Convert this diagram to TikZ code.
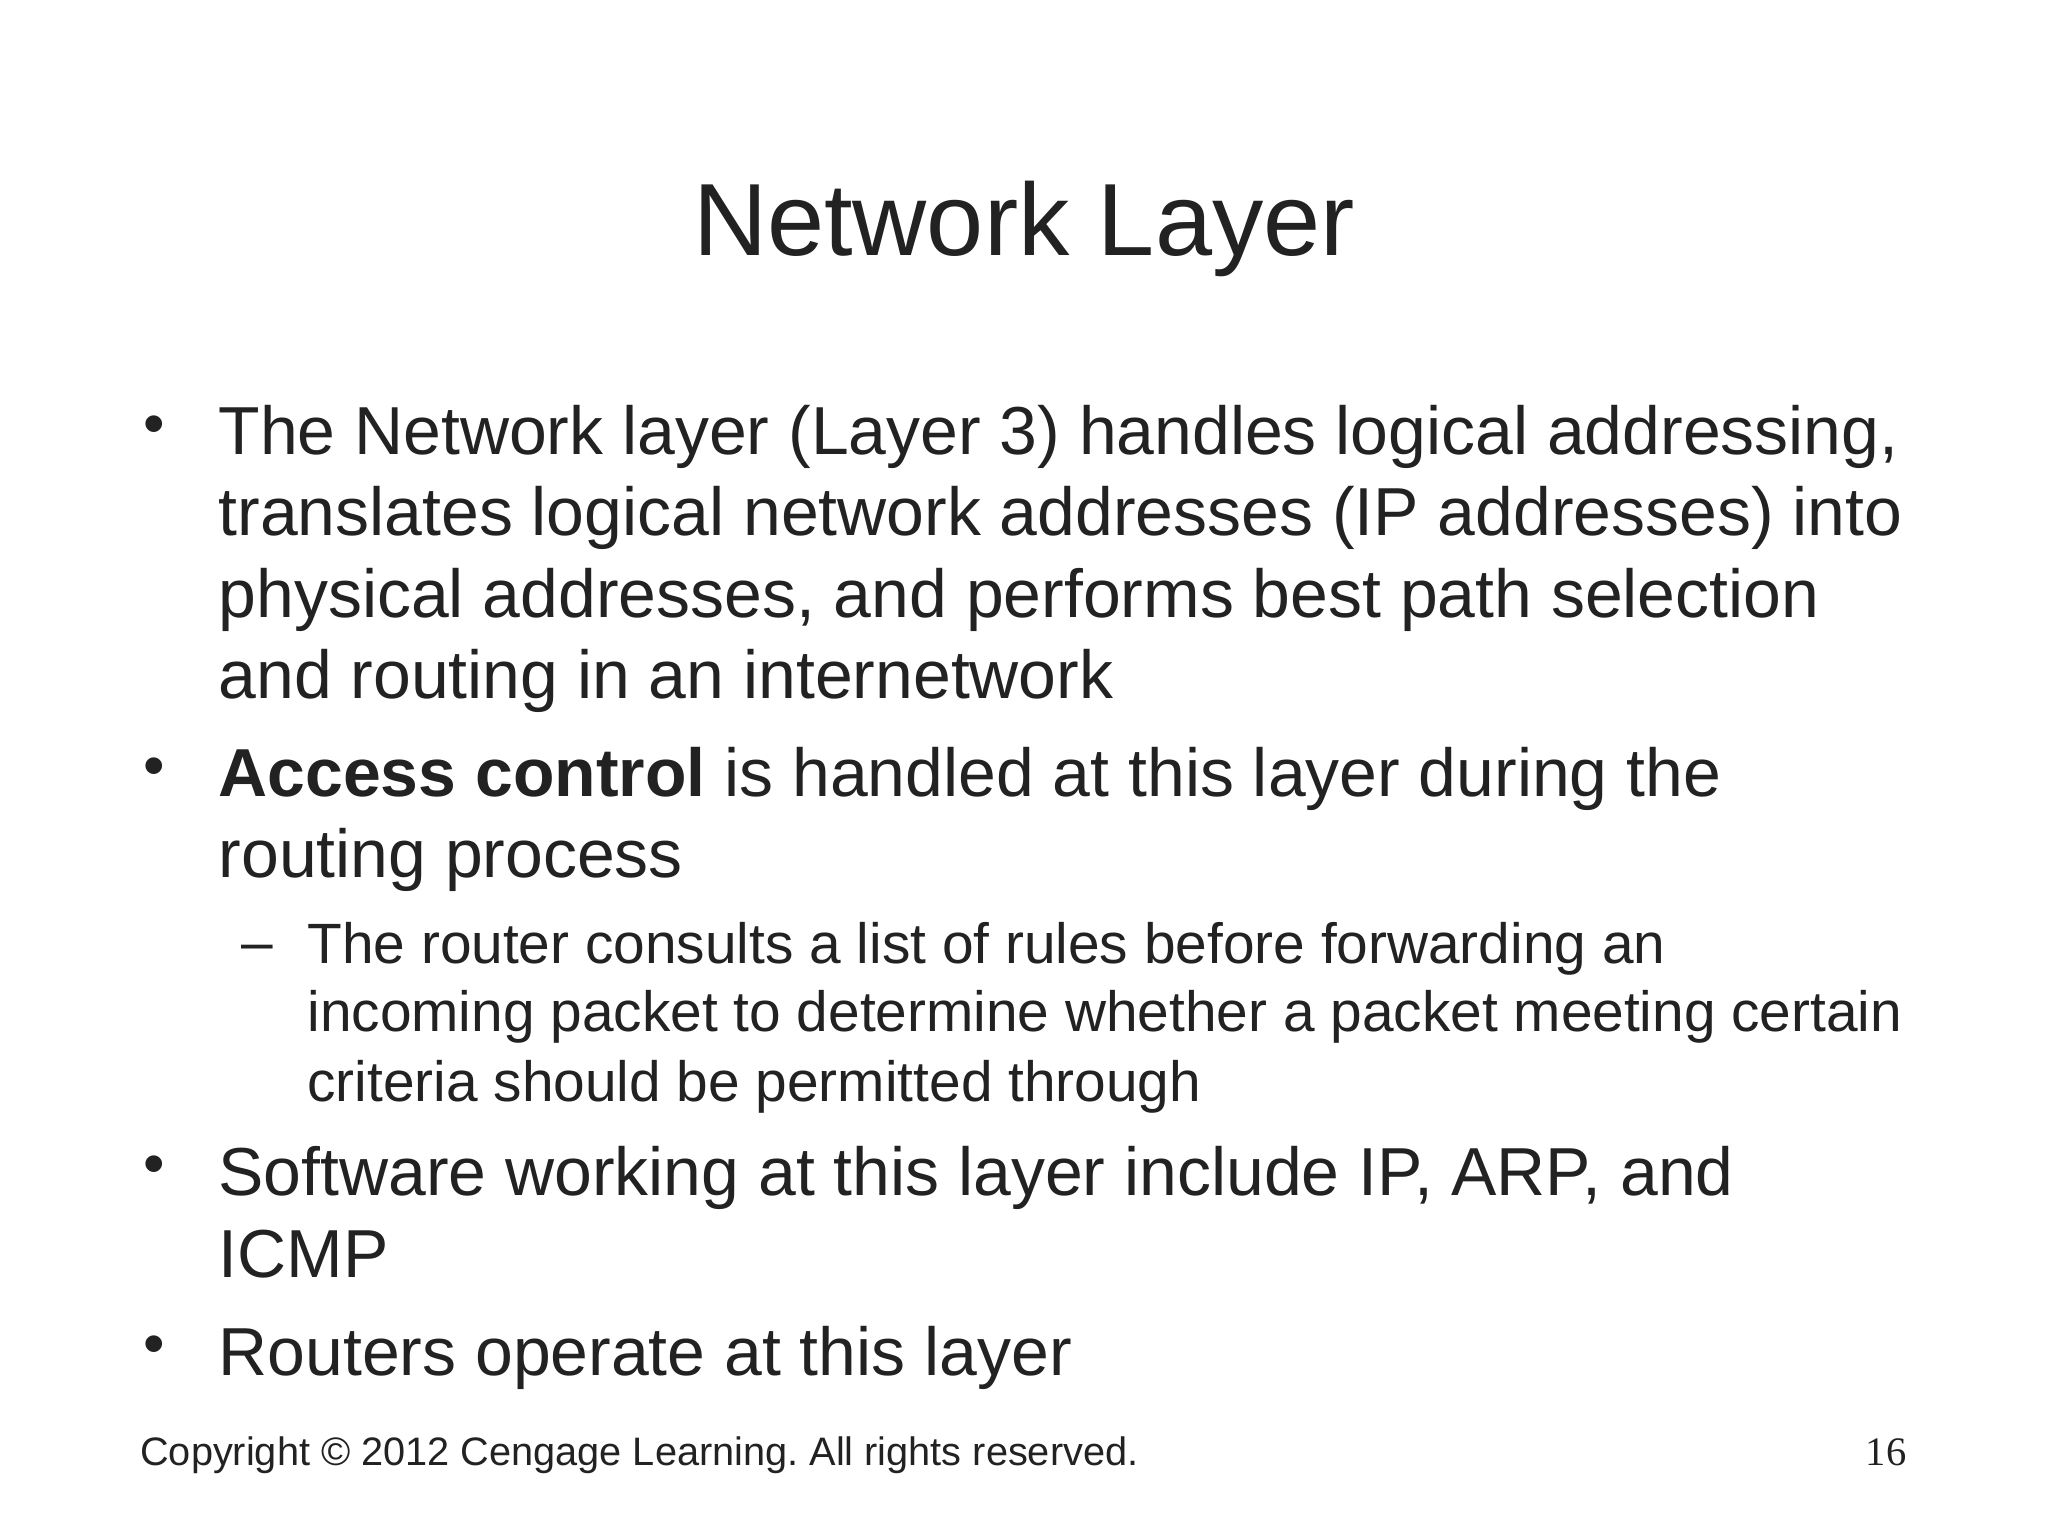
\documentclass[tikz,border=0pt]{standalone}
\usepackage{fontspec}
\setmainfont{Liberation Sans}
\newfontfamily\serifnum{Liberation Serif}
\definecolor{txt}{HTML}{222222}
\frenchspacing
\begin{document}
\begin{tikzpicture}[x=0.5pt,y=-0.5pt,
  tl/.style={anchor=base west,inner sep=0pt,text=txt,font=\fontsize{26pt}{30pt}\selectfont},
  sl/.style={anchor=base west,inner sep=0pt,text=txt,font=\fontsize{21.75pt}{26pt}\selectfont},
  bul/.style={anchor=base,inner sep=0pt,text=txt,font=\fontsize{23.5pt}{28pt}\selectfont}]
\useasboundingbox[fill=white] (0,0) rectangle (1568,1176);
\node[anchor=base,inner sep=0pt,text=txt,font=\fontsize{39.3pt}{47pt}\selectfont] (title) at (784,196) {Network Layer};
\node[bul] (b1) at (118,340) {•};
\node[tl] (l1) at (167,348) {The Network layer (Layer 3) handles logical addressing,};
\node[tl] (l2) at (167,410) {translates logical network addresses (IP addresses) into};
\node[tl] (l3) at (167,473) {physical addresses, and performs best path selection};
\node[tl] (l4) at (167,535) {and routing in an internetwork};
\node[bul] (b2) at (118,602) {•};
\node[tl] (l5) at (167,610) {\textbf{Access control} is handled at this layer during the};
\node[tl] (l6) at (167,672) {routing process};
\node[anchor=base,inner sep=0pt,text=txt,font=\fontsize{21.75pt}{26pt}\selectfont] (d1) at (197,736) {–};
\node[sl] (s1) at (235,738) {The router consults a list of rules before forwarding an};
\node[sl] (s2) at (235,790) {incoming packet to determine whether a packet meeting certain};
\node[sl] (s3) at (235,843) {criteria should be permitted through};
\node[bul] (b3) at (118,907) {•};
\node[tl] (l7) at (167,915) {Software working at this layer include IP, ARP, and};
\node[tl] (l8) at (167,978) {ICMP};
\node[bul] (b4) at (118,1045) {•};
\node[tl] (l9) at (167,1053) {Routers operate at this layer};
\node[anchor=base west,inner sep=0pt,text=txt,font=\fontsize{15.2pt}{18pt}\selectfont] (copy) at (107,1122) {Copyright © 2012 Cengage Learning. All rights reserved.};
\node[anchor=base east,inner sep=0pt,text=txt,font=\serifnum\fontsize{15.5pt}{18pt}\selectfont] (pg) at (1460,1122) {16};
\end{tikzpicture}
\end{document}
